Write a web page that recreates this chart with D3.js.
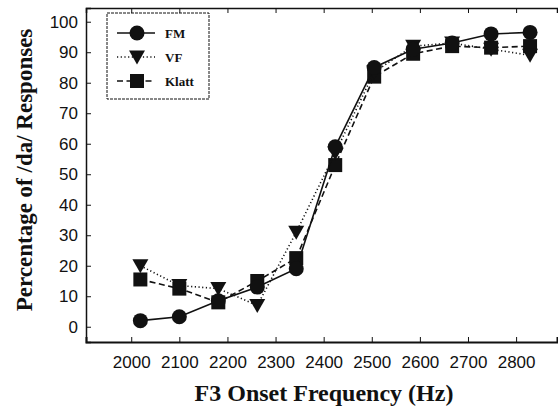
<!DOCTYPE html>
<html>
<head>
<meta charset="utf-8">
<script src="https://cdn.jsdelivr.net/npm/d3@7"></script>
<style>
  html, body { margin: 0; padding: 0; background: #fff; }
  svg { display: block; font-family: "Liberation Serif", "DejaVu Serif", serif; }
</style>
</head>
<body>
<div id="chart"></div>
<script>
// F3 onset continuum, % /da/ responses per synthesizer
const freqs = [2019, 2100, 2181, 2262, 2343, 2424, 2505, 2586, 2667, 2748, 2829];
const fm    = [2, 3.3, 8.5, 13, 19, 59, 85, 91, 93, 96, 96.5];
const vf    = [20, 13.5, 12.5, 7, 31, 57, 83.5, 92, 93, 91, 89];
const klatt = [15.5, 12.5, 8, 15, 22.5, 53, 82, 89.5, 92, 91.5, 92];
const xTicks = [2000, 2100, 2200, 2300, 2400, 2500, 2600, 2700, 2800];
const yTicks = [0, 10, 20, 30, 40, 50, 60, 70, 80, 90, 100];

const series = [
  { name: 'FM', values: fm, marker: 'circle', dash: null },
  { name: 'VF', values: vf, marker: 'triangle', dash: '1.2,2.5' },
  { name: 'Klatt', values: klatt, marker: 'square', dash: '6,3.5' }
];

const width = 558, height = 412, margin = { t: 8, r: 1, b: 70, l: 86 };

const svg = d3.select('#chart').append('svg')
  .attr('width', width).attr('height', height)
  .attr('viewBox', [0, 0, width, height]);

const x = d3.scaleLinear().domain([1906, 2885]).range([margin.l, width - margin.r]);
const y = d3.scaleLinear().domain([-5, 104.5]).range([height - margin.b, margin.t]);

const ink = '#111';

// frame: left, bottom, top lines
svg.append('g').attr('transform', `translate(0,${height - margin.b})`)
  .call(d3.axisBottom(x).tickValues(xTicks).tickSize(-5).tickPadding(14).tickFormat(d3.format('d')))
  .call(g => g.select('.domain').attr('stroke-width', 2));
svg.append('g').attr('transform', `translate(0,${margin.t})`)
  .call(d3.axisTop(x).tickValues(xTicks).tickSize(-5).tickFormat(''))
  .call(g => g.select('.domain').attr('stroke-width', 1.5));
svg.append('g').attr('transform', `translate(${margin.l},0)`)
  .call(d3.axisLeft(y).tickValues(yTicks).tickSize(-5).tickPadding(8))
  .call(g => g.select('.domain').attr('stroke-width', 1.5));

svg.selectAll('.tick text').attr('font-size', 17).attr('fill', ink);
svg.selectAll('.domain, .tick line').attr('stroke', ink);

// marker shapes
function drawMarker(g, kind, cx, cy) {
  if (kind === 'circle') {
    g.append('circle').attr('cx', cx).attr('cy', cy).attr('r', 7.5).attr('fill', ink);
  } else if (kind === 'triangle') {
    g.append('path').attr('d', `M${cx - 8},${cy - 6.5} L${cx + 8},${cy - 6.5} L${cx},${cy + 7.5} Z`).attr('fill', ink);
  } else {
    g.append('rect').attr('x', cx - 7).attr('y', cy - 7).attr('width', 14).attr('height', 14).attr('fill', ink);
  }
}

const line = d3.line().x((d, i) => x(freqs[i])).y(d => y(d));

// draw in reverse so FM circles sit on top
series.slice().reverse().forEach(s => {
  const g = svg.append('g');
  g.append('path').attr('d', line(s.values)).attr('fill', 'none')
    .attr('stroke', ink).attr('stroke-width', 1.6)
    .attr('stroke-dasharray', s.dash);
  s.values.forEach((v, i) => drawMarker(g, s.marker, x(freqs[i]), y(v)));
});

// legend
const lg = svg.append('g').attr('transform', 'translate(107,13)');
lg.append('rect').attr('width', 102).attr('height', 86).attr('fill', '#fff')
  .attr('stroke', ink).attr('stroke-width', 1).attr('stroke-dasharray', '3,1');
series.forEach((s, i) => {
  const ly = 20 + i * 24;
  lg.append('line').attr('x1', 10).attr('x2', 48).attr('y1', ly).attr('y2', ly)
    .attr('stroke', ink).attr('stroke-width', 1.6).attr('stroke-dasharray', s.dash);
  drawMarker(lg, s.marker, 30, ly);
  lg.append('text').attr('x', 58).attr('y', ly + 5).attr('font-size', 13)
    .attr('font-weight', 'bold').attr('fill', ink).text(s.name);
});

// axis titles
svg.append('text').attr('x', 324).attr('y', 401)
  .attr('text-anchor', 'middle').attr('font-size', 24).attr('font-weight', 'bold')
  .attr('fill', ink).text('F3 Onset Frequency (Hz)');
svg.append('text').attr('transform', 'translate(32,170) rotate(-90)')
  .attr('text-anchor', 'middle').attr('font-size', 23).attr('font-weight', 'bold')
  .attr('fill', ink).text('Percentage of /da/ Responses');
</script>
</body>
</html>
